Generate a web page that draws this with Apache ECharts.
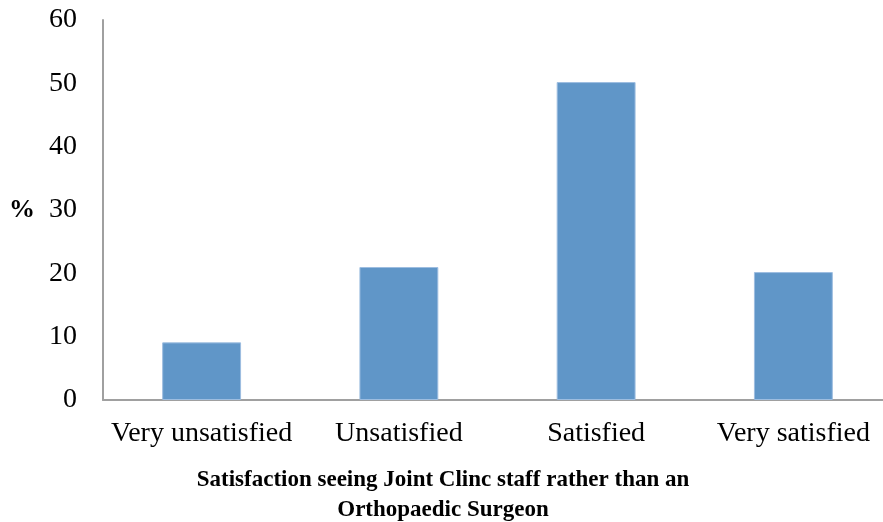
<!DOCTYPE html>
<html><head><meta charset="utf-8">
<script src="https://cdn.jsdelivr.net/npm/echarts@6/dist/echarts.min.js"></script>
<style>html,body{margin:0;padding:0;background:#fff;overflow:hidden;width:883px;height:522px}#c{width:892px;height:522px}</style>
</head><body><div id="c"></div>
<script>
const categories = ['Very unsatisfied', 'Unsatisfied', 'Satisfied', 'Very satisfied'];
const percentValues = [9.1, 21.0, 50.2, 20.2];
const yTicks = [0, 10, 20, 30, 40, 50, 60];
const titleLines = ['Satisfaction seeing Joint Clinc staff rather than an', 'Orthopaedic Surgeon'];

const chart = echarts.init(document.getElementById('c'), null, {renderer: 'canvas'});
chart.setOption({
  animation: false,
  backgroundColor: '#fff',
  title: {
    text: titleLines.join('\n'),
    left: 438, top: 460, textAlign: 'center',
    textStyle: {fontFamily: 'Liberation Serif', fontWeight: 'bold', fontSize: 23, color: '#000', lineHeight: 30}
  },
  grid: {left: 103, right: 0, top: 20, bottom: 122, containLabel: false},
  xAxis: {
    type: 'category', data: categories,
    axisLine: {lineStyle: {color: '#a0a0a0', width: 2}},
    axisTick: {show: false},
    axisLabel: {fontFamily: 'Liberation Serif', fontSize: 28, color: '#000', margin: 20, interval: 0}
  },
  yAxis: {
    type: 'value', min: 0, max: 60, interval: 10,
    name: '%', nameLocation: 'middle', nameRotate: 0, nameGap: 68,
    nameTextStyle: {fontFamily: 'Liberation Serif', fontWeight: 'bold', fontSize: 26, color: '#000'},
    axisLine: {show: true, lineStyle: {color: '#a0a0a0', width: 2}},
    axisTick: {show: false},
    splitLine: {show: false},
    axisLabel: {fontFamily: 'Liberation Serif', fontSize: 28, color: '#000', margin: 26,
      formatter: v => yTicks.includes(v) ? String(v) : ''}
  },
  series: [{
    type: 'bar', data: percentValues, barCategoryGap: '60%',
    itemStyle: {color: '#6096c8', borderColor: '#9dbde0', borderWidth: 1}
  }]
});
</script></body></html>
